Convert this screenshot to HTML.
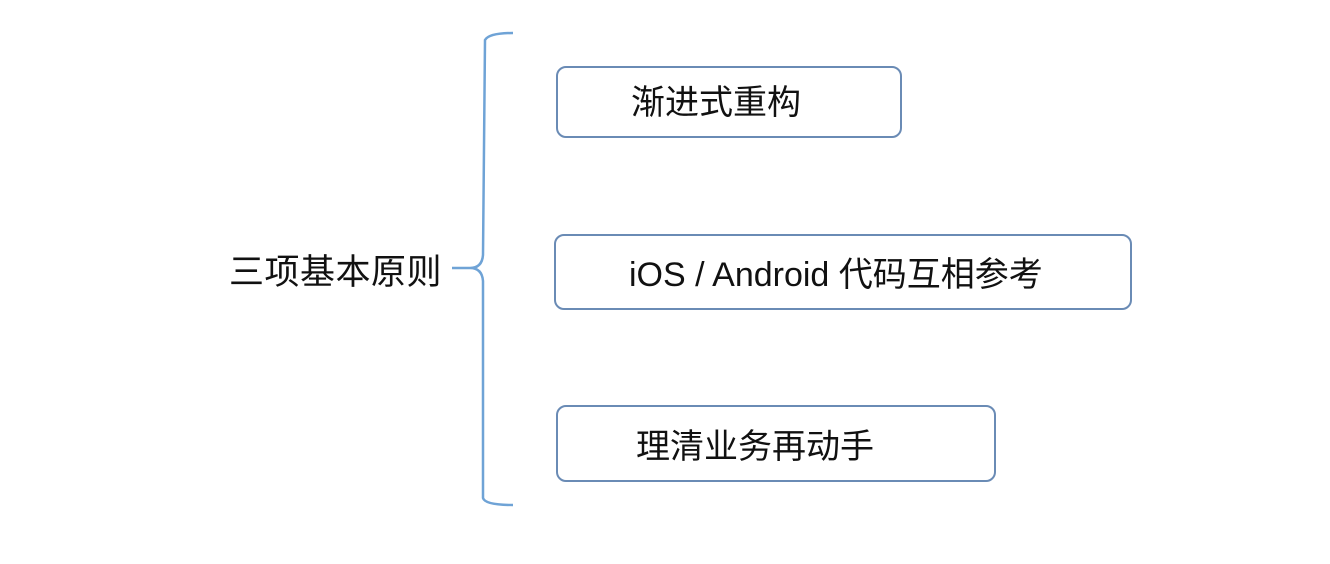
<!DOCTYPE html>
<html><head><meta charset="utf-8"><style>
body{margin:0;width:1330px;height:564px;background:#fff;overflow:hidden;position:relative;font-family:"Liberation Sans","Noto Sans CJK SC",sans-serif;color:#111}
.b{position:absolute;border:2px solid #6a8bb5;border-radius:10px;box-sizing:border-box}
.t{position:absolute;font-size:34px;line-height:34px;white-space:nowrap}
</style></head><body>
<svg width="1330" height="564" style="position:absolute;left:0;top:0">
<path d="M513 33 Q489 33 485 40 L483 255 Q482 268 470 268 L452 268 M470 268 Q482 268 483 281 L483 498 Q485 505 513 505" fill="none" stroke="#6fa3d6" stroke-width="2.5"/>
</svg>
<div class="t" style="left:229px;top:256px;font-size:35px;letter-spacing:0.5px">三项基本原则</div>
<div class="b" style="left:556px;top:66px;width:346px;height:72px"></div>
<div class="t" style="left:631px;top:86px">渐进式重构</div>
<div class="b" style="left:554px;top:234px;width:578px;height:76px"></div>
<div class="t" style="left:629px;top:258px;font-size:34px">iOS / Android 代码互相参考</div>
<div class="b" style="left:556px;top:405px;width:440px;height:77px"></div>
<div class="t" style="left:636px;top:430px">理清业务再动手</div>
</body></html>
